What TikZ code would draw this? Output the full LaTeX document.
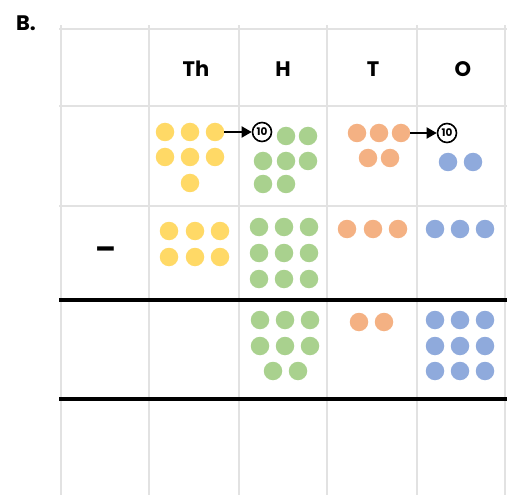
\documentclass[tikz,border=0pt]{standalone}
\usepackage{fontspec}
\setmainfont{Poppins}
\usetikzlibrary{arrows.meta}
\definecolor{dyel}{HTML}{FFD966}
\definecolor{dgrn}{HTML}{A9D18E}
\definecolor{dora}{HTML}{F4B183}
\definecolor{dblu}{HTML}{8FAADC}
\definecolor{gridg}{HTML}{E2E2E2}
\tikzset{
  dot/.style={circle,inner sep=0pt,minimum size=18.5pt,fill=#1},
  gridline/.style={draw=gridg,line width=1.6pt},
  thickline/.style={draw=black,line width=4pt},
  head/.style={font=\fontsize{21}{24}\selectfont\bfseries},
  ten/.style={circle,draw=black,line width=1.6pt,inner sep=0pt,minimum size=19pt,
    font=\fontsize{10.5}{11}\selectfont\bfseries},
  carry/.style={draw=black,line width=1.8pt,-{Triangle[length=10pt,width=11pt]}}
}
\begin{document}
\begin{tikzpicture}[x=1pt,y=-1pt]
\useasboundingbox (0,0) rectangle (507,495);
% grid
\foreach \x in {61,149,239,327,417,505}
  \draw[gridline] (\x,25) -- (\x,495);
\foreach \y in {29,106,206}
  \draw[gridline] (59,\y) -- (507,\y);
\draw[thickline] (59,300) -- (507,300);
\draw[thickline] (59,399) -- (507,399);
% labels
\node[head] (lb) at (26,23) {B.};
\node[head] (hth) at (196,69) {Th};
\node[head] (hh) at (283,69) {H};
\node[head] (ht) at (373,69) {T};
\node[head] (ho) at (463,69) {O};
\node[head,font=\fontsize{30}{30}\selectfont\bfseries] (minus) at (106,253) {–};
% row 1
\node[dot=dyel] (y1) at (215,132) {};
\foreach \p in {(165,132),(190,132),(165,157),(190,157),(215,157),(190,183)}
  \node[dot=dyel] at \p {};
\node[ten] (t1) at (262,132) {10};
\foreach \p in {(286,136),(308,136),(263,161),(286,161),(308,161),(263,184),(286,184)}
  \node[dot=dgrn] at \p {};
\node[dot=dora] (o1) at (401,133) {};
\foreach \p in {(357,133),(379,133),(368,158),(390,158)}
  \node[dot=dora] at \p {};
\node[ten] (t2) at (447,133) {10};
\foreach \p in {(448,162),(473,162)}
  \node[dot=dblu] at \p {};
\draw[carry] (y1) -- (t1);
\draw[carry] (o1) -- (t2);
% row 2
\foreach \x in {169,195,220} \foreach \y in {231,257}
  \node[dot=dyel] at (\x,\y) {};
\foreach \x in {259,284,309} \foreach \y in {227,253,279}
  \node[dot=dgrn] at (\x,\y) {};
\foreach \x in {347,373,398}
  \node[dot=dora] at (\x,229) {};
\foreach \x in {435,460,485}
  \node[dot=dblu] at (\x,229) {};
% row 3
\foreach \x in {260,285,310} \foreach \y in {320,346}
  \node[dot=dgrn] at (\x,\y) {};
\foreach \x in {273,298}
  \node[dot=dgrn] at (\x,371) {};
\foreach \x in {359,384}
  \node[dot=dora] at (\x,322) {};
\foreach \x in {435,460,485} \foreach \y in {320,346,371}
  \node[dot=dblu] at (\x,\y) {};
\end{tikzpicture}
\end{document}
